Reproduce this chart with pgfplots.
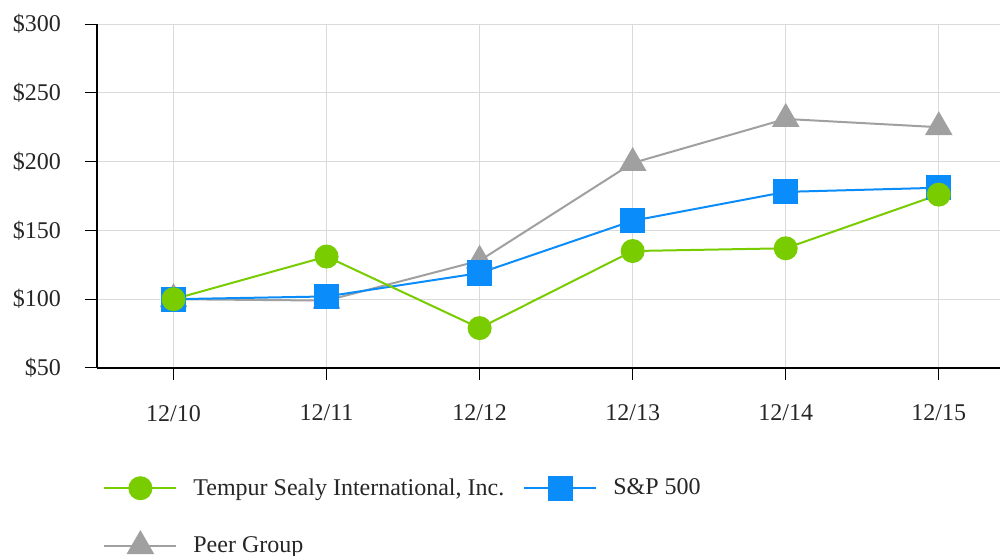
\documentclass[border=0pt]{standalone}
\usepackage{fontspec}
\setmainfont{Liberation Serif}
\usepackage{pgfplots}
\pgfplotsset{compat=1.18}
\usetikzlibrary{calc}

\definecolor{tsgreen}{RGB}{120,204,0}
\definecolor{spblue}{RGB}{10,140,250}
\definecolor{peergray}{RGB}{160,160,160}
\definecolor{gridgray}{RGB}{218,218,218}

\begin{document}
\begin{tikzpicture}
\begin{axis}[
    name=ax,
    scale only axis,
    width=451.5pt, height=172pt,
    xmin=-0.5, xmax=5.4,
    ymin=50, ymax=300,
    xtick={0,1,2,3,4,5},
    xticklabels={12/10,12/11,12/12,12/13,12/14,12/15},
    ytick={50,100,150,200,250,300},
    yticklabels={\$50,\$100,\$150,\$200,\$250,\$300},
    axis x line=bottom, axis y line=left,
    axis line style={-, black, line width=1.1pt},
    tick align=outside,
    major tick length=6pt,
    tick style={black, line width=0.5pt},
    grid=major,
    major grid style={gridgray, line width=0.5pt},
    font=\fontsize{12}{14}\selectfont,
    ticklabel style={font=\fontsize{12}{14}\selectfont, text=black!85},
    xticklabel style={yshift=-9pt},
    yticklabel style={xshift=-8.5pt},
    legend columns=2,
    reverse legend,
    legend style={draw=none, fill=none,
        at={(rel axis cs:0,0)}, anchor=north west,
        xshift=0pt, yshift=-51pt,
        font=\fontsize{12}{14}\selectfont, text=black!85,
        /tikz/every odd column/.append style={column sep=6pt},
        /tikz/every even column/.append style={column sep=7.5pt},
        row sep=15pt},
    legend cell align=left,
    legend image code/.code={\draw[mark repeat=2,mark phase=2] plot coordinates {(0pt,0pt) (18pt,0pt) (36pt,0pt)};},
]
\addplot[peergray, line width=1pt, mark=triangle*, mark size=7pt, mark options={fill=peergray, draw=peergray}] coordinates {
    (0,100) (1,99) (2,128) (3,199) (4,231) (5,225)
};
\addlegendentry{Peer Group}
\addplot[spblue, line width=1pt, mark=square*, mark size=5.8pt, mark options={fill=spblue, draw=spblue}] coordinates {
    (0,100) (1,102) (2,119) (3,157) (4,178) (5,181)
};
\addlegendentry{S\&P 500}
\addplot[tsgreen, line width=1pt, mark=*, mark size=5.5pt, mark options={fill=tsgreen, draw=tsgreen}] coordinates {
    (0,100) (1,131) (2,79) (3,135) (4,137) (5,176)
};
\addlegendentry{Tempur Sealy International, Inc.}
\coordinate (O) at (rel axis cs:0,0);
\end{axis}
\pgfresetboundingbox
\path ($(O)+(-48.5pt,-94pt)$) rectangle ($(O)+(452.5pt,184pt)$);
\end{tikzpicture}
\end{document}
